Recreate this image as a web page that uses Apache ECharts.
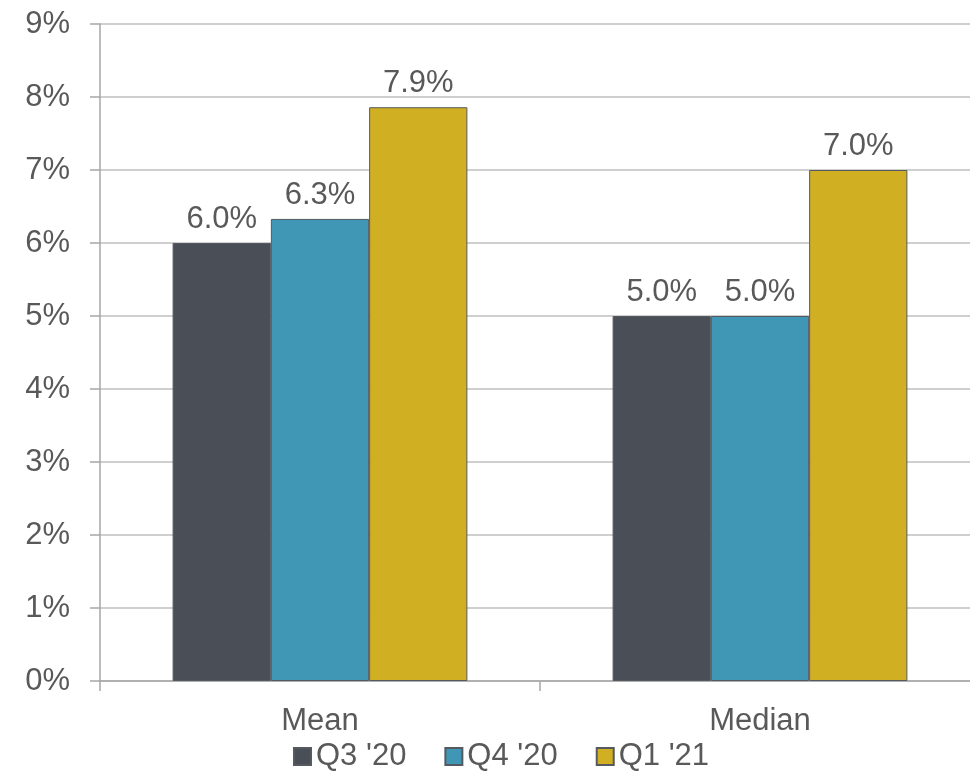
<!DOCTYPE html>
<html>
<head>
<meta charset="utf-8">
<script src="https://cdn.jsdelivr.net/npm/echarts@6/dist/echarts.min.js"></script>
<style>
  html, body { margin: 0; padding: 0; background: #ffffff; overflow: hidden; }
  /* plot area runs a little past the right edge of the window */
  #chart { width: 980px; height: 774px; }
</style>
</head>
<body>
<div id="chart"></div>
<script>
// Categories on the x axis
const categories = ['Mean', 'Median'];

// Series names and values (percent)
const seriesNames = ["Q3 '20", "Q4 '20", "Q1 '21"];
const q3_20 = [6.0, 5.0];
const q4_20 = [6.33, 5.0];
const q1_21 = [7.86, 7.0];

// Y axis ticks
const yMin = 0;
const yMax = 9;
const yStep = 1;

const colors = ['#4a4f57', '#3f97b5', '#d0af23'];
const textColor = '#595959';
const fontFamily = 'Liberation Sans, Arial, sans-serif';
const fontSize = 31;

const seriesValues = [q3_20, q4_20, q1_21];

const chart = echarts.init(document.getElementById('chart'), null, { renderer: 'canvas' });

chart.setOption({
  animation: false,
  backgroundColor: '#ffffff',
  textStyle: { fontFamily: fontFamily },
  grid: { left: 100, right: 0, top: 24, bottom: 93, containLabel: false },
  legend: {
    top: 741,
    left: 293,
    padding: 0,
    itemWidth: 17,
    itemHeight: 17,
    itemGap: 38,
    icon: 'rect',
    textStyle: { fontSize: fontSize, color: textColor, fontFamily: fontFamily },
    data: seriesNames
  },
  xAxis: {
    type: 'category',
    data: categories,
    axisLine: { show: true, lineStyle: { color: '#a6a6a6', width: 1.5 } },
    axisTick: { show: true, length: 10, lineStyle: { color: '#a6a6a6', width: 1.5 } },
    axisLabel: { fontSize: fontSize, color: textColor, margin: 25, fontFamily: fontFamily }
  },
  yAxis: {
    type: 'value',
    min: yMin,
    max: yMax,
    interval: yStep,
    axisLine: { show: true, lineStyle: { color: '#a6a6a6', width: 1.5 } },
    axisTick: { show: true, inside: false, length: 10, lineStyle: { color: '#a6a6a6', width: 1.5 } },
    splitLine: { show: true, lineStyle: { color: '#bfbfbf', width: 1.5 } },
    axisLabel: {
      fontSize: fontSize,
      color: textColor,
      margin: 30,
      fontFamily: fontFamily,
      formatter: v => v + '%'
    }
  },
  series: seriesNames.map((name, i) => ({
    name: name,
    type: 'bar',
    data: seriesValues[i],
    barGap: '0%',
    barCategoryGap: '33%',
    itemStyle: { color: colors[i], borderColor: '#555a60', borderWidth: 1 },
    label: {
      show: true,
      position: 'top',
      distance: 8,
      fontSize: fontSize,
      color: textColor,
      fontFamily: fontFamily,
      formatter: p => p.value.toFixed(1) + '%'
    }
  }))
});
</script>
</body>
</html>
